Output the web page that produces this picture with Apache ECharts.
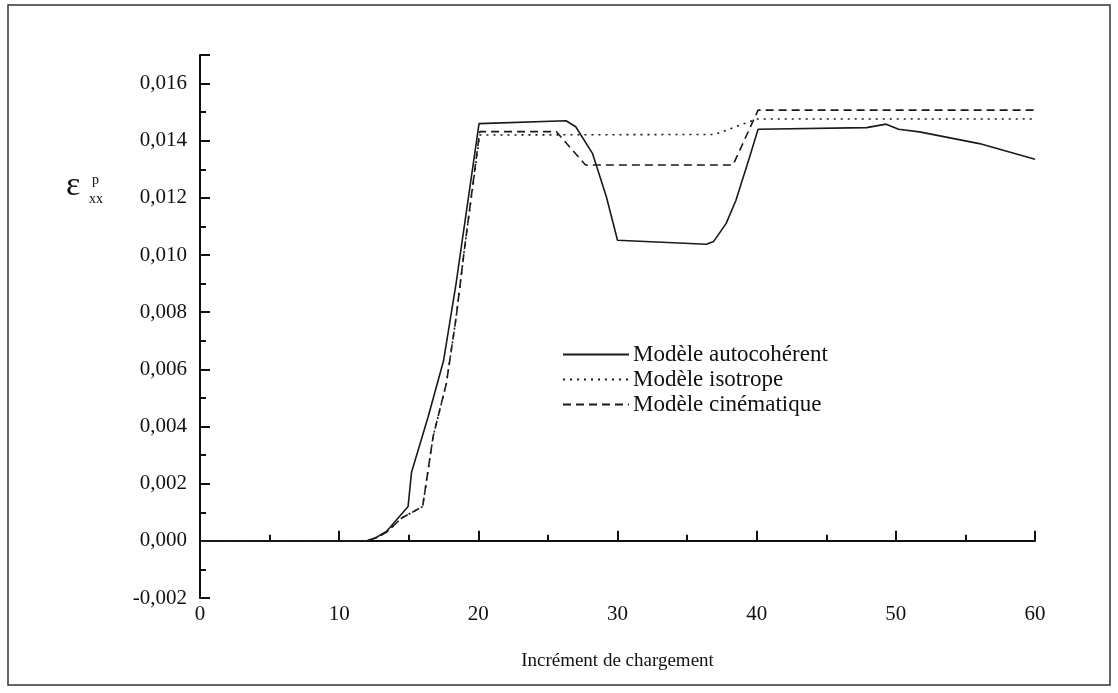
<!DOCTYPE html>
<html>
<head>
<meta charset="utf-8">
<script src="https://cdn.jsdelivr.net/npm/echarts@6/dist/echarts.min.js"></script>
<style>html,body{margin:0;padding:0;background:#fff;}#c{width:1118px;height:693px;}</style>
</head>
<body>
<div id="c"></div>
<script>
var seriesNames = ['Modèle autocohérent', 'Modèle isotrope', 'Modèle cinématique'];
var xTitle = 'Incrément de chargement';
var autocoherent = [[0,0],[12,0],[12.6,0.0001],[13.4,0.00033],[14.95,0.0012],[15.2,0.0024],[16.4,0.00435],[17.5,0.0063],[18.4,0.009],[20.05,0.0146],[26.3,0.0147],[27,0.01449],[28.2,0.01356],[29.2,0.01204],[30,0.01052],[36.4,0.01038],[36.9,0.01047],[37.8,0.0111],[38.5,0.0119],[39.5,0.01344],[40.1,0.0144],[47.9,0.01446],[49.3,0.01458],[50.2,0.0144],[51.7,0.01431],[56,0.0139],[60,0.01335]];
var isotrope = [[0,0],[12,0],[12.6,0.0001],[13.4,0.0003],[14.5,0.0008],[16,0.0012],[16.75,0.00365],[17.7,0.0055],[18.4,0.0078],[19,0.0102],[20.1,0.0142],[37,0.01422],[40,0.01476],[60,0.01476]];
var cinematique = [[0,0],[12,0],[12.6,0.0001],[13.4,0.0003],[14.5,0.0008],[16,0.0012],[16.75,0.00365],[17.7,0.0055],[18.4,0.0078],[19,0.0102],[20.1,0.01432],[25.6,0.01432],[27.7,0.01315],[38.3,0.01315],[40.1,0.01507],[60,0.01507]];

var font = 'Liberation Serif';
var chart = echarts.init(document.getElementById('c'));
var lineColor = '#1a1a1a';
chart.setOption({
  animation: false,
  backgroundColor: '#fff',
  textStyle: {fontFamily: font},
  grid: {left: 200, right: 83, top: 55, bottom: 95, containLabel: false},
  legend: {
    show: true, type: 'plain', orient: 'vertical',
    left: 562, top: 343, right: 'auto', bottom: 'auto',
    itemWidth: 66, itemHeight: 14, itemGap: 2, padding: 0,
    itemStyle: {opacity: 0},
    textStyle: {fontFamily: font, fontSize: 23, color: '#111', lineHeight: 23, padding: [0, 0, 0, -1]},
    data: seriesNames
  },
  xAxis: {
    type: 'value', min: 0, max: 60, interval: 10,
    name: xTitle, nameLocation: 'middle', nameGap: 54,
    nameTextStyle: {fontFamily: font, fontSize: 19, color: '#111'},
    axisLine: {lineStyle: {color: '#111', width: 2}},
    axisTick: {inside: true, length: 10, lineStyle: {color: '#111', width: 2}},
    minorTick: {show: true, splitNumber: 2, length: 6, lineStyle: {color: '#111', width: 2}},
    axisLabel: {fontFamily: font, fontSize: 21, color: '#111', margin: 6},
    splitLine: {show: false}
  },
  yAxis: {
    type: 'value', min: -0.002, max: 0.017, interval: 0.002,
    axisLine: {show: true, lineStyle: {color: '#111', width: 2}},
    axisTick: {show: true, inside: true, length: 10, lineStyle: {color: '#111', width: 2}},
    minorTick: {show: true, splitNumber: 2, length: 6, lineStyle: {color: '#111', width: 2}},
    axisLabel: {fontFamily: font, fontSize: 21, color: '#111', margin: 13, showMaxLabel: false,
      formatter: function(v){ if (v > 0.0165) return ''; return v.toFixed(3).replace('.', ','); }},
    splitLine: {show: false}
  },
  graphic: [
    {type: 'rect', shape: {x: 8, y: 5, width: 1102, height: 680}, style: {fill: 'none', stroke: '#333', lineWidth: 1.5}, silent: true},
    {type: 'text', left: 66, top: 169, style: {text: 'ε', font: '34px "Liberation Serif"', fill: '#111'}},
    {type: 'text', left: 92, top: 173, style: {text: 'p', font: '14px "Liberation Serif"', fill: '#111'}},
    {type: 'text', left: 89, top: 192, style: {text: 'xx', font: '14px "Liberation Serif"', fill: '#111'}}
  ],
  series: [
    {name: seriesNames[0], type: 'line', data: autocoherent, symbol: 'none', lineStyle: {color: lineColor, width: 1.6, type: 'solid'}, itemStyle: {color: lineColor}},
    {name: seriesNames[1], type: 'line', data: isotrope, symbol: 'none', lineStyle: {color: lineColor, width: 1.6, type: [2, 5]}, itemStyle: {color: lineColor}},
    {name: seriesNames[2], type: 'line', data: cinematique, symbol: 'none', lineStyle: {color: lineColor, width: 1.6, type: [8, 5]}, itemStyle: {color: lineColor}}
  ]
});
</script>
</body>
</html>
